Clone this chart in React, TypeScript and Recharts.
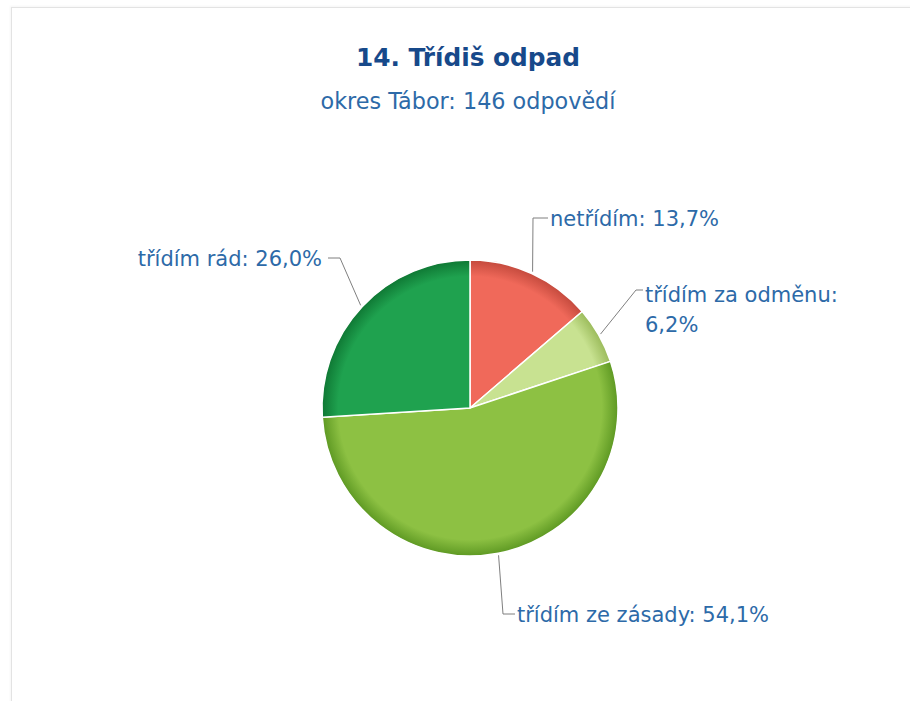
import { PieChart, Pie, Cell } from "recharts";

const categories = ["netřídím", "třídím za odměnu", "třídím ze zásady", "třídím rád"];
const shares = [13.7, 6.2, 54.1, 26.0];
const baseColors = ["#F0695A", "#C8E291", "#8DC143", "#1FA24F"];
const rimColors = ["#C44A3D", "#9BBB5B", "#5E9923", "#0F7834"];

const title = "14. Třídiš odpad";
const subtitle = "okres Tábor: 146 odpovědí";

const W = 910;
const H = 701;
const CX = 470;
const CY = 408;
const R = 148;
const RAD = Math.PI / 180;

const data = categories.map((name, i) => ({ name, value: shares[i] }));

// connector elbow / text placement per slice, relative to the pie centre
const labelLayout = [
  { ex: 63, ey: -190, hx: 78, tx: 80, anchor: "start", split: false },
  { ex: 166, ey: -118, hx: 173, tx: 175, anchor: "start", split: true },
  { ex: 33, ey: 206, hx: 45, tx: 47, anchor: "start", split: false },
  { ex: -130, ey: -150, hx: -142, tx: -148, anchor: "end", split: false },
];

const fmt = (v: number) => v.toFixed(1).replace(".", ",") + "%";

const renderLabel = (props: any) => {
  const { cx, cy, midAngle, outerRadius, index } = props;
  const lay = labelLayout[index];
  const sx = cx + (outerRadius + 2) * Math.cos(-midAngle * RAD);
  const sy = cy + (outerRadius + 2) * Math.sin(-midAngle * RAD);
  const ex = cx + lay.ex;
  const ey = cy + lay.ey;
  const hx = cx + lay.hx;
  const tx = cx + lay.tx;
  const name = categories[index];
  const val = fmt(shares[index]);
  return (
    <g key={"lbl" + index}>
      <path
        d={`M${sx},${sy} L${ex},${ey} L${hx},${ey}`}
        fill="none"
        stroke="#7f7f7f"
        strokeWidth={1}
      />
      {lay.split ? (
        <text
          x={tx}
          y={ey + 12}
          textAnchor={lay.anchor as any}
          fill="#2d6aa8"
          fontSize={21}
          fontFamily="DejaVu Sans"
        >
          <tspan x={tx}>{name + ":"}</tspan>
          <tspan x={tx} dy={30}>
            {val}
          </tspan>
        </text>
      ) : (
        <text
          x={tx}
          y={ey + 7.5}
          textAnchor={lay.anchor as any}
          fill="#2d6aa8"
          fontSize={21}
          fontFamily="DejaVu Sans"
        >
          {name + ": " + val}
        </text>
      )}
    </g>
  );
};

export default function App() {
  return (
    <div
      style={{
        position: "absolute",
        left: 0,
        top: 0,
        width: W,
        height: H,
        overflow: "hidden",
        background: "#fff",
      }}
    >
      <div
        style={{
          position: "absolute",
          left: 11,
          top: 7,
          width: W + 50,
          height: H + 50,
          borderLeft: "1px solid #e3e3e3",
          borderTop: "1px solid #e3e3e3",
          boxShadow: "-1px -1px 2px rgba(0,0,0,0.04)",
        }}
      />
      <svg
        width={W}
        height={H}
        style={{ position: "absolute", left: 0, top: 0, pointerEvents: "none" }}
      >
        <defs>
          {baseColors.map((c, i) => (
            <radialGradient
              key={i}
              id={"slice" + i}
              gradientUnits="userSpaceOnUse"
              cx={CX}
              cy={CY}
              r={R}
            >
              <stop offset="0%" stopColor={c} />
              <stop offset="89%" stopColor={c} />
              <stop offset="100%" stopColor={rimColors[i]} />
            </radialGradient>
          ))}
        </defs>
        <text
          x={468}
          y={66}
          textAnchor="middle"
          fill="#17498a"
          fontSize={24.8}
          fontWeight="bold"
          fontFamily="DejaVu Sans"
        >
          {title}
        </text>
        <text
          x={468}
          y={109}
          textAnchor="middle"
          fill="#2d6aa8"
          fontSize={22.3}
          fontFamily="DejaVu Sans"
        >
          {subtitle}
        </text>
      </svg>
      <div style={{ position: "absolute", left: 0, top: 0 }}>
        <PieChart width={W} height={H} margin={{ top: 0, right: 0, bottom: 0, left: 0 }}>
          <Pie
            data={data}
            dataKey="value"
            nameKey="name"
            cx={CX}
            cy={CY}
            outerRadius={R}
            startAngle={90}
            endAngle={-270}
            stroke="#ffffff"
            strokeWidth={1.5}
            label={renderLabel}
            labelLine={false}
            isAnimationActive={false}
          >
            {data.map((_, i) => (
              <Cell key={i} fill={`url(#slice${i})`} />
            ))}
          </Pie>
        </PieChart>
      </div>
    </div>
  );
}
